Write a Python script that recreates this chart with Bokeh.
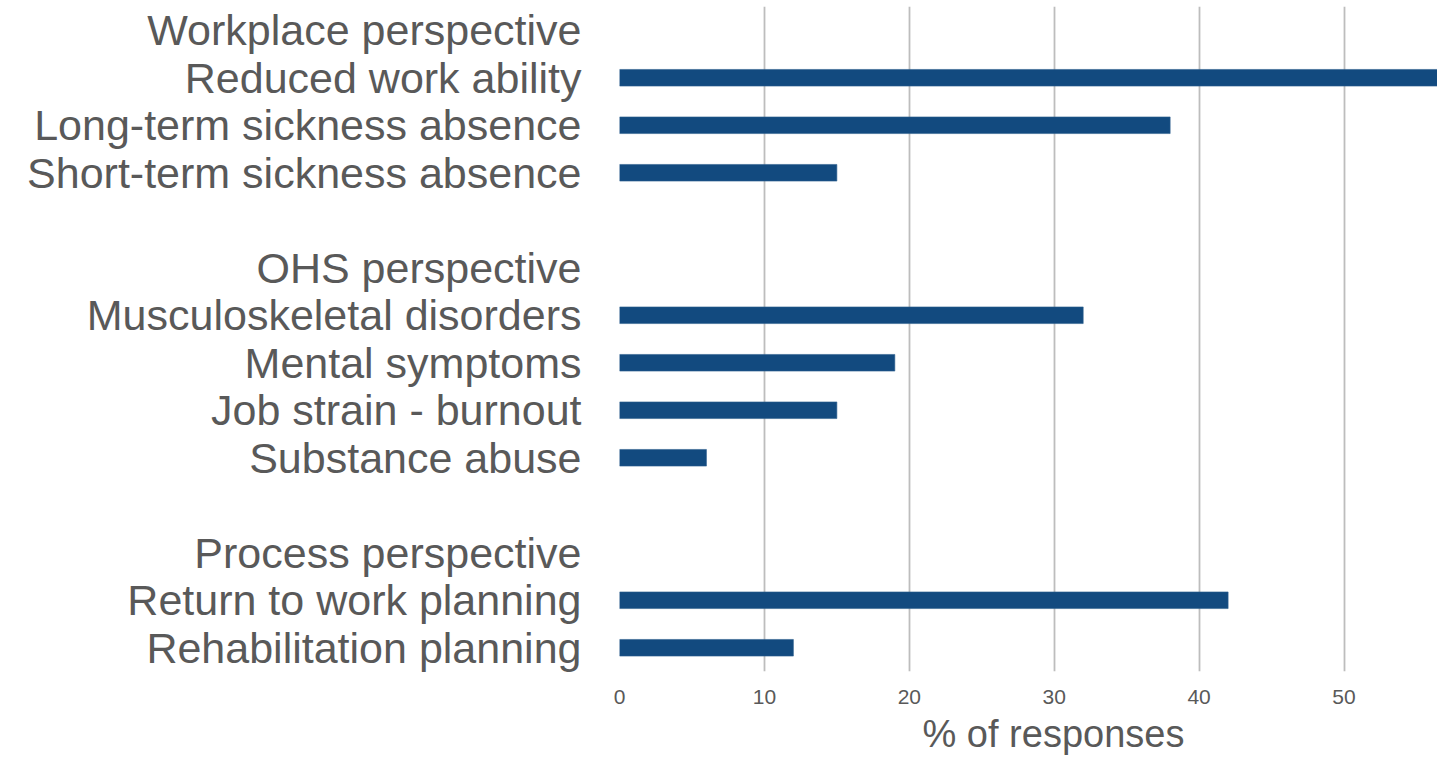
from bokeh.plotting import figure
from bokeh.models import Range1d, FixedTicker, Title
from bokeh.embed import file_html
from bokeh.resources import INLINE

# Share of responses (%) per indicator, grouped by perspective
group_names = ["Workplace perspective", "OHS perspective", "Process perspective"]

workplace_items = ["Reduced work ability", "Long-term sickness absence", "Short-term sickness absence"]
workplace_values = [57, 38, 15]

ohs_items = ["Musculoskeletal disorders", "Mental symptoms", "Job strain - burnout", "Substance abuse"]
ohs_values = [32, 19, 15, 6]

process_items = ["Return to work planning", "Rehabilitation planning"]
process_values = [42, 12]

x_ticks = [0, 10, 20, 30, 40, 50]
x_title = "% of responses"

groups = [
    (group_names[0], workplace_items, workplace_values),
    (group_names[1], ohs_items, ohs_values),
    (group_names[2], process_items, process_values),
]

# Row layout: a heading row per group, one row per item, an empty row between groups
row_labels = {}
bar_rows, bar_values = [], []
row = 0
for i, (name, items, vals) in enumerate(groups):
    if i > 0:
        row += 1
    row_labels[row] = name
    row += 1
    for item, v in zip(items, vals):
        row_labels[row] = item
        bar_rows.append(row)
        bar_values.append(v)
        row += 1
n_rows = row

TEXT = "#595959"
FONT = "Liberation Sans"

p = figure(
    width=1437, height=759,
    x_range=Range1d(0, 56.45),
    y_range=Range1d(n_rows - 0.5, -0.5),
    output_backend="svg", toolbar_location=None,
    min_border_left=619, min_border_right=0, min_border_top=6, min_border_bottom=88,
)
p.outline_line_color = None
p.background_fill_color = "white"
p.border_fill_color = "white"

p.hbar(y=bar_rows, right=bar_values, left=0, height=0.35,
       fill_color="#124a7f", line_color="#2e5f8f", line_width=0.6)

# x axis: ticks every 10 with light vertical grid lines
p.xaxis.ticker = FixedTicker(ticks=x_ticks)
p.xaxis.axis_line_color = None
p.xaxis.major_tick_line_color = None
p.xaxis.minor_tick_line_color = None
p.xaxis.major_label_text_font = FONT
p.xaxis.major_label_text_font_size = "21px"
p.xaxis.major_label_text_color = TEXT
p.xaxis.major_label_standoff = 12
p.xgrid.ticker = FixedTicker(ticks=x_ticks)
p.xgrid.grid_line_color = "#bdbdbd"
p.xgrid.grid_line_width = 1.8

# y axis: category labels, no bars for the group headings
p.yaxis.ticker = FixedTicker(ticks=sorted(row_labels.keys()))
p.yaxis.major_label_overrides = {k: v for k, v in row_labels.items()}
p.yaxis.axis_line_color = None
p.yaxis.major_tick_line_color = None
p.yaxis.minor_tick_line_color = None
p.yaxis.major_label_text_font = FONT
p.yaxis.major_label_text_font_size = "43px"
p.yaxis.major_label_text_color = TEXT
p.yaxis.major_label_standoff = 32
p.ygrid.grid_line_color = None

# x-axis title below the tick labels
p.add_layout(Title(text=x_title, align="left", offset=303,
                   vertical_align="bottom",
                   text_font=FONT, text_font_size="38px", text_font_style="normal",
                   text_color=TEXT, standoff=9), "below")

open("out.html", "w").write(file_html(p, INLINE))
